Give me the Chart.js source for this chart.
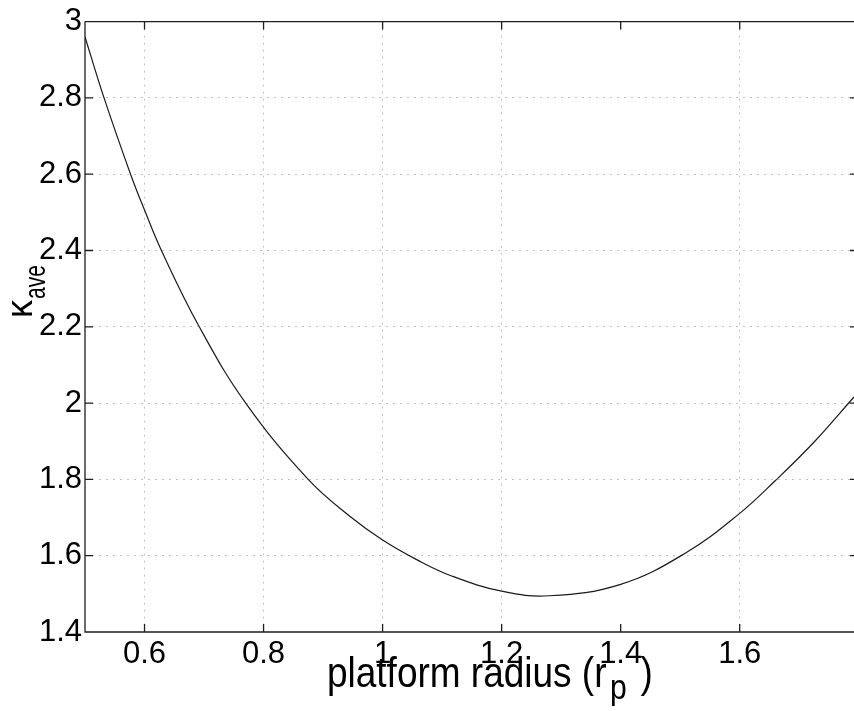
<!DOCTYPE html>
<html>
<head>
<meta charset="utf-8">
<script src="https://cdn.jsdelivr.net/npm/chart.js@4/dist/chart.umd.min.js"></script>
<style>
  html, body { margin: 0; padding: 0; background: #fff; }
</style>
</head>
<body>
<canvas id="c" width="854" height="711"></canvas>
<script>
// Platform radius r_p and the average curvature measure at each radius
const radius   = [0.5, 0.532, 0.577, 0.6, 0.629, 0.692, 0.770, 0.875, 0.946, 1.0, 1.058, 1.114, 1.2, 1.28, 1.4, 1.509, 1.6, 1.66, 1.725, 1.792];
const kappaAve = [2.96, 2.8, 2.598, 2.506, 2.398, 2.2, 2.0, 1.8, 1.702, 1.641, 1.589, 1.548, 1.507, 1.495, 1.525, 1.607, 1.711, 1.797, 1.898, 2.016];

// Axis ticks and their labels
const xTicks = [0.6, 0.8, 1, 1.2, 1.4, 1.6];
const xTickLabels = ['0.6', '0.8', '1', '1.2', '1.4', '1.6'];
const yTicks = [1.4, 1.6, 1.8, 2, 2.2, 2.4, 2.6, 2.8, 3];
const yTickLabels = ['1.4', '1.6', '1.8', '2', '2.2', '2.4', '2.6', '2.8', '3'];

// Axis titles (main text, subscript, trailing text)
const xTitle = ['platform radius (r', 'p', ' )'];
const yTitle = ['\u03BA', 'ave'];

const FONT = '"Liberation Sans", Arial, Helvetica, sans-serif';

// Boxed frame with inward tick marks on every side
const framePlugin = {
  id: 'frame',
  afterDatasetsDraw(chart) {
    const { ctx, chartArea: a, scales: { x, y } } = chart;
    ctx.save();
    ctx.strokeStyle = '#1e1e1e';
    ctx.lineWidth = 1.3;
    ctx.beginPath();
    ctx.moveTo(a.left, a.top); ctx.lineTo(a.right, a.top);
    ctx.moveTo(a.left, a.top); ctx.lineTo(a.left, a.bottom); ctx.lineTo(a.right, a.bottom);
    xTicks.forEach(v => {
      const px = x.getPixelForValue(v);
      ctx.moveTo(px, a.bottom); ctx.lineTo(px, a.bottom - 8);
      ctx.moveTo(px, a.top); ctx.lineTo(px, a.top + 8);
    });
    yTicks.forEach(v => {
      const py = y.getPixelForValue(v);
      ctx.moveTo(a.left, py); ctx.lineTo(a.left + 8, py);
      ctx.moveTo(a.right, py); ctx.lineTo(a.right - 4, py);
    });
    ctx.stroke();
    ctx.restore();
  }
};

// Axis titles with subscripts
const titlePlugin = {
  id: 'titles',
  afterDraw(chart) {
    const { ctx } = chart;
    ctx.save();
    ctx.fillStyle = '#000';
    ctx.textBaseline = 'alphabetic';
    ctx.textAlign = 'left';

    // x title
    ctx.save();
    ctx.translate(327, 687);
    ctx.scale(0.86, 1);
    ctx.font = '43px ' + FONT;
    ctx.fillText(xTitle[0], 0, 0);
    const w0 = ctx.measureText(xTitle[0]).width;
    ctx.font = '35px ' + FONT;
    ctx.fillText(xTitle[1], w0 + 4, 12);
    const w1 = ctx.measureText(xTitle[1]).width;
    ctx.font = '43px ' + FONT;
    ctx.fillText(xTitle[2], w0 + 8 + w1, 0);
    ctx.restore();

    // y title, rotated
    ctx.save();
    ctx.translate(32, 318);
    ctx.rotate(-Math.PI / 2);
    ctx.font = '36px ' + FONT;
    ctx.fillText(yTitle[0], 0, 0);
    const kw = ctx.measureText(yTitle[0]).width;
    ctx.translate(kw + 1, 0);
    ctx.scale(0.7, 1);
    ctx.font = '30px ' + FONT;
    ctx.fillText(yTitle[1], 0, 13);
    ctx.restore();

    ctx.restore();
  }
};

const gridColor = (c) => {
  const v = c.tick ? c.tick.value : null;
  return (v === 1.4 || v === 3) ? 'rgba(0,0,0,0)' : '#c2c2c2';
};

new Chart(document.getElementById('c'), {
  type: 'line',
  data: {
    datasets: [{
      data: radius.map((r, i) => ({ x: r, y: kappaAve[i] })),
      borderColor: '#1a1a1a',
      borderWidth: 1.2,
      pointRadius: 0,
      fill: false,
      tension: 0.4
    }]
  },
  options: {
    responsive: false,
    devicePixelRatio: 1,
    animation: false,
    layout: { padding: { top: 21, right: 0, left: 0, bottom: 0 } },
    plugins: { legend: { display: false }, tooltip: { enabled: false } },
    scales: {
      x: {
        type: 'linear',
        min: 0.5,
        max: 1.792,
        afterBuildTicks: s => { s.ticks = xTicks.map(v => ({ value: v })); },
        afterFit: s => { s.height = 79; },
        grid: { color: gridColor, lineWidth: 1, drawTicks: false },
        border: { display: false, dash: [2, 5] },
        ticks: {
          padding: 4,
          color: '#000',
          font: { family: FONT, size: 31 },
          maxRotation: 0,
          autoSkip: false,
          callback: v => xTickLabels[xTicks.indexOf(v)]
        }
      },
      y: {
        type: 'linear',
        min: 1.4,
        max: 3,
        afterBuildTicks: s => { s.ticks = yTicks.map(v => ({ value: v })); },
        afterFit: s => { s.width = 85; },
        grid: { color: gridColor, lineWidth: 1, drawTicks: false },
        border: { display: false, dash: [2, 5] },
        ticks: {
          padding: 3,
          color: '#000',
          font: { family: FONT, size: 31 },
          autoSkip: false,
          callback: v => yTickLabels[yTicks.indexOf(v)]
        }
      }
    }
  },
  plugins: [framePlugin, titlePlugin]
});
</script>
</body>
</html>
